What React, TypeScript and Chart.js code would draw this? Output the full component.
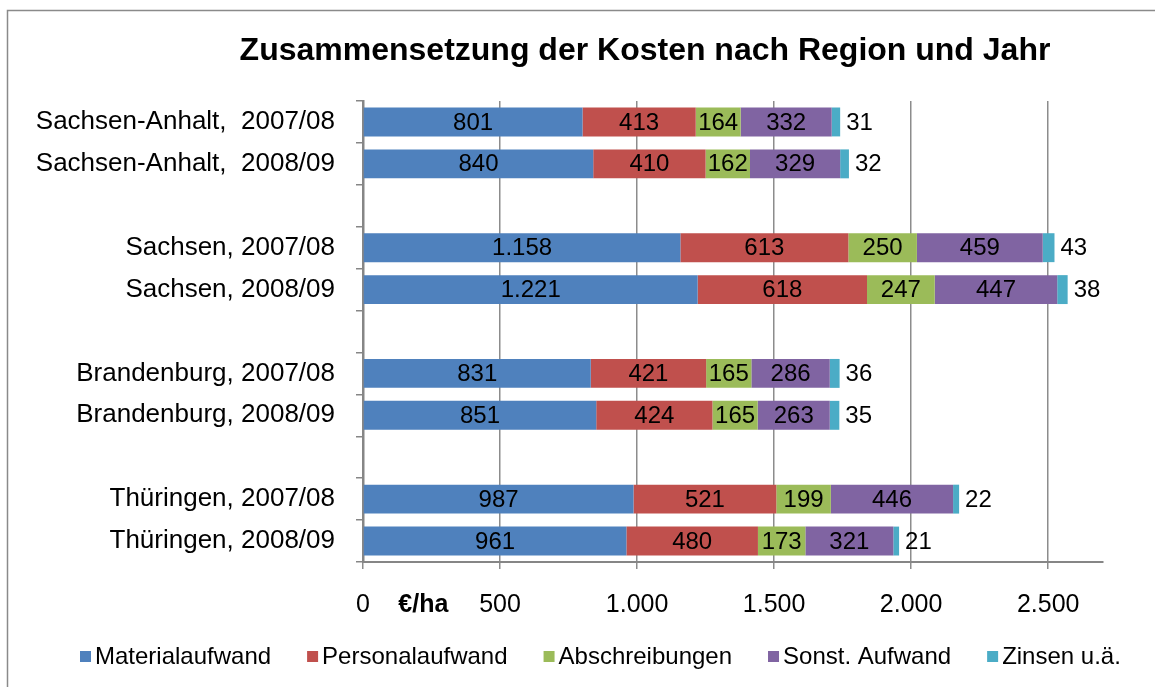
import { useEffect, useRef } from "react";
import { Chart, registerables } from "chart.js";

Chart.register(...registerables);

const FONT = "'Liberation Sans', Arial, sans-serif";

const titleText = "Zusammensetzung der Kosten nach Region und Jahr";
const unitLabel = "€/ha";

const categories = [
  "Sachsen-Anhalt,  2007/08",
  "Sachsen-Anhalt,  2008/09",
  "",
  "Sachsen, 2007/08",
  "Sachsen, 2008/09",
  "",
  "Brandenburg, 2007/08",
  "Brandenburg, 2008/09",
  "",
  "Thüringen, 2007/08",
  "Thüringen, 2008/09",
];

const materialaufwand = [801, 840, null, 1158, 1221, null, 831, 851, null, 987, 961];
const personalaufwand = [413, 410, null, 613, 618, null, 421, 424, null, 521, 480];
const abschreibungen = [164, 162, null, 250, 247, null, 165, 165, null, 199, 173];
const sonstAufwand = [332, 329, null, 459, 447, null, 286, 263, null, 446, 321];
const zinsen = [31, 32, null, 43, 38, null, 36, 35, null, 22, 21];

const seriesNames = ["Materialaufwand", "Personalaufwand", "Abschreibungen", "Sonst. Aufwand", "Zinsen u.ä."];
const seriesColors = ["#4F81BD", "#C0504D", "#9BBB59", "#8064A2", "#4BACC6"];
const seriesValues = [materialaufwand, personalaufwand, abschreibungen, sonstAufwand, zinsen];

const xTickValues = [0, 500, 1000, 1500, 2000, 2500];
const xMax = 2700;
const unitLabelValue = 220;

const fmt = (v: number) => String(Math.round(v)).replace(/\B(?=(\d{3})+(?!\d))/g, ".");

const overlayPlugin = {
  id: "overlay",
  afterDatasetsDraw(chart: any) {
    const ctx = chart.ctx;
    ctx.save();
    ctx.font = `24px ${FONT}`;
    ctx.fillStyle = "#000";
    ctx.textBaseline = "middle";
    const last = chart.data.datasets.length - 1;
    chart.data.datasets.forEach((ds: any, i: number) => {
      const meta = chart.getDatasetMeta(i);
      meta.data.forEach((el: any, j: number) => {
        const v = ds.data[j];
        if (v === null || v === undefined) return;
        if (i === last) {
          ctx.textAlign = "left";
          ctx.fillText(fmt(v), Math.max(el.x, el.base) + 6, el.y + 1);
        } else {
          ctx.textAlign = "center";
          ctx.fillText(fmt(v), (el.x + el.base) / 2, el.y + 1);
        }
      });
    });
    ctx.restore();
  },
  afterDraw(chart: any) {
    const ctx = chart.ctx;
    ctx.save();
    // outer frame
    ctx.strokeStyle = "#8a8a8a";
    ctx.lineWidth = 1.5;
    ctx.strokeRect(7.5, 10.5, 1200, 700);
    // title
    ctx.fillStyle = "#000";
    ctx.font = `bold 32px ${FONT}`;
    ctx.textAlign = "center";
    ctx.textBaseline = "middle";
    ctx.fillText(titleText, 645, 51);
    // unit label
    const xs = chart.scales.x;
    ctx.font = `bold 25px ${FONT}`;
    ctx.fillText(unitLabel, xs.getPixelForValue(unitLabelValue), 605);
    // legend
    ctx.font = `24px ${FONT}`;
    ctx.textAlign = "left";
    let x = 80;
    const ly = 657;
    seriesNames.forEach((name, i) => {
      ctx.fillStyle = seriesColors[i];
      ctx.fillRect(x, ly - 6, 11, 11);
      ctx.fillStyle = "#000";
      ctx.fillText(name, x + 15, ly);
      x += 15 + ctx.measureText(name).width + 36;
    });
    ctx.restore();
  },
};

export default function App() {
  const ref = useRef<HTMLCanvasElement | null>(null);
  useEffect(() => {
    if (!ref.current) return;
    const chart = new Chart(ref.current, {
      type: "bar",
      data: {
        labels: categories,
        datasets: seriesNames.map((name, i) => ({
          label: name,
          data: seriesValues[i],
          backgroundColor: seriesColors[i],
          borderWidth: 0,
          barPercentage: 0.69,
          categoryPercentage: 1,
        })),
      },
      options: {
        indexAxis: "y",
        responsive: false,
        animation: false,
        devicePixelRatio: 1,
        layout: { padding: { top: 101, right: 52, left: 0, bottom: 0 } },
        plugins: {
          legend: { display: false },
          title: { display: false },
          tooltip: { enabled: false },
        },
        scales: {
          x: {
            type: "linear",
            stacked: true,
            min: 0,
            max: xMax,
            afterBuildTicks: (s: any) => {
              s.ticks = xTickValues.map((v) => ({ value: v }));
            },
            afterFit: (s: any) => {
              s.height = 125;
            },
            ticks: {
              autoSkip: false,
              maxRotation: 0,
              color: "#000",
              padding: 21,
              font: { size: 25, family: FONT },
              callback: (v: any) => fmt(Number(v)),
            },
            grid: { color: "#8c8c8c", lineWidth: 1.5, tickLength: 7, drawTicks: true },
            border: { color: "#868686", width: 2 },
          },
          y: {
            type: "category",
            stacked: true,
            afterFit: (s: any) => {
              s.width = 363;
            },
            ticks: {
              autoSkip: false,
              color: "#000",
              padding: 21,
              font: { size: 26, family: FONT },
            },
            grid: { offset: true, drawOnChartArea: false, drawTicks: true, tickLength: 7, color: "#868686", lineWidth: 1.5 },
            border: { color: "#868686", width: 2.5 },
          },
        },
      } as any,
      plugins: [overlayPlugin],
    });
    return () => chart.destroy();
  }, []);
  return (
    <div style={{ position: "absolute", left: 0, top: 0, width: 1155, height: 687, background: "#fff" }}>
      <canvas ref={ref} width={1155} height={687} style={{ display: "block", width: 1155, height: 687 }} />
    </div>
  );
}
